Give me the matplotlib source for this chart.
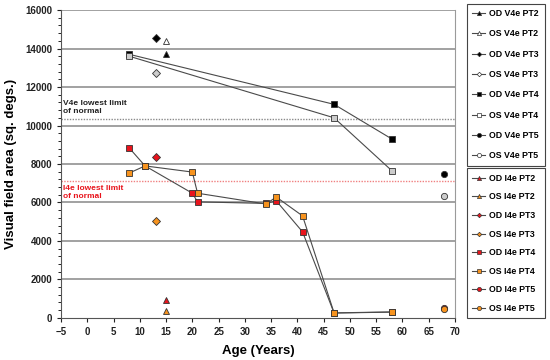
import matplotlib
matplotlib.use("Agg")
import matplotlib.pyplot as plt
from matplotlib.lines import Line2D

plt.rcParams['font.family'] = ['Liberation Sans', 'DejaVu Sans']
plt.rcParams['font.weight'] = 'bold'

# ---- data ----
# V4e
v4_pt2_age = [15]
v4_pt2_od = [13700]
v4_pt2_os = [14400]
v4_pt3_age = [13]
v4_pt3_od = [14550]
v4_pt3_os = [12750]
v4_pt4_age = [8, 47, 58]
v4_pt4_od = [13700, 11100, 9300]
v4_pt4_os = [13600, 10400, 7650]
v4_pt5_age = [68]
v4_pt5_od = [7500]
v4_pt5_os = [6350]
# I4e
i4_pt2_age = [15]
i4_pt2_od = [950]
i4_pt2_os = [380]
i4_pt3_age = [13]
i4_pt3_od = [8370]
i4_pt3_os = [5050]
i4_pt4_od_age = [8, 11, 20, 21, 34, 36, 41, 47, 58]
i4_pt4_od = [8830, 7900, 6480, 6030, 5950, 6080, 4470, 250, 300]
i4_pt4_os_age = [8, 11, 20, 21, 34, 36, 41, 47, 58]
i4_pt4_os = [7530, 7900, 7580, 6480, 5920, 6280, 5300, 260, 310]
i4_pt5_age = [68]
i4_pt5_od = [520]
i4_pt5_os = [480]

v4_limit = 10350
i4_limit = 7100

x_ticks = list(range(-5, 75, 5))
y_ticks = list(range(0, 16001, 2000))

BLACK = '#000000'
GREY = '#cccccc'
RED = '#e8141c'
ORANGE = '#f7931e'
LINE = '#4a4a4a'

fig = plt.figure(figsize=(5.5, 3.6), dpi=100)
ax = fig.add_axes([0.111, 0.117, 0.716, 0.855])

ax.set_xlim(-5, 70)
ax.set_ylim(0, 16000)
for y in y_ticks[1:]:
    ax.axhline(y, color='#9a9a9a', lw=1.3, zorder=1)

ax.axhline(v4_limit, color='#8a8a8a', lw=1.0, ls=(0, (1, 1)), zorder=1)
ax.axhline(i4_limit, color='#f08080', lw=1.0, ls=(0, (1, 1)), zorder=1)
ax.text(-4.6, v4_limit + 180, 'V4e lowest limit\nof normal', fontsize=6,
        fontweight='bold', color='#222222', va='bottom', ha='left', linespacing=1.25)
ax.text(-4.6, i4_limit - 170, 'I4e lowest limit\nof normal', fontsize=6,
        fontweight='bold', color=RED, va='top', ha='left', linespacing=1.25)

def series(x, y, marker, fc, ms, ls='-'):
    ax.plot(x, y, ls, color=LINE, lw=0.8, marker=marker, markersize=ms,
            markerfacecolor=fc, markeredgecolor='#333333', markeredgewidth=0.6, zorder=3)

# V4e
series(v4_pt2_age, v4_pt2_od, '^', BLACK, 5)
series(v4_pt2_age, v4_pt2_os, '^', '#ffffff', 5)
series(v4_pt3_age, v4_pt3_od, 'D', BLACK, 3.8)
series(v4_pt3_age, v4_pt3_os, 'D', GREY, 3.8)
series(v4_pt4_age, v4_pt4_od, 's', BLACK, 5)
series(v4_pt4_age, v4_pt4_os, 's', GREY, 5)
series(v4_pt5_age, v4_pt5_od, 'o', BLACK, 4.5)
series(v4_pt5_age, v4_pt5_os, 'o', GREY, 4.5)
# I4e
series(i4_pt2_age, i4_pt2_od, '^', RED, 5)
series(i4_pt2_age, i4_pt2_os, '^', ORANGE, 5)
series(i4_pt3_age, i4_pt3_od, 'D', RED, 3.8)
series(i4_pt3_age, i4_pt3_os, 'D', ORANGE, 3.8)
series(i4_pt4_od_age, i4_pt4_od, 's', RED, 5)
series(i4_pt4_os_age, i4_pt4_os, 's', ORANGE, 5)
series(i4_pt5_age, i4_pt5_od, 'o', RED, 4.5)
series(i4_pt5_age, i4_pt5_os, 'o', ORANGE, 4.5)

ax.set_xticks(x_ticks)
ax.set_yticks(y_ticks)
ax.set_yticks(range(0, 16001, 400), minor=True)
ax.tick_params(axis='both', labelsize=7, length=3, width=0.8, colors='#222222')
ax.tick_params(axis='y', which='minor', length=2, width=0.6)
for lab in ax.get_xticklabels() + ax.get_yticklabels():
    lab.set_fontweight('bold')
ax.spines['top'].set_visible(False)
ax.spines['right'].set_color('#9a9a9a')
ax.spines['left'].set_color('#555555')
ax.spines['bottom'].set_color('#555555')

ax.set_xlabel('Age (Years)', fontsize=9.5, fontweight='bold', labelpad=6)
ax.set_ylabel('Visual field area (sq. degs.)', fontsize=9.5, fontweight='bold', labelpad=6)

def handle(marker, fc, ms):
    return Line2D([], [], color=LINE, lw=0.8, marker=marker, markersize=ms,
                  markerfacecolor=fc, markeredgecolor='#333333', markeredgewidth=0.5)

v4_labels = ['OD V4e PT2', 'OS V4e PT2', 'OD V4e PT3', 'OS V4e PT3',
             'OD V4e PT4', 'OS V4e PT4', 'OD V4e PT5', 'OS V4e PT5']
i4_labels = ['OD I4e PT2', 'OS I4e PT2', 'OD I4e PT3', 'OS I4e PT3',
             'OD I4e PT4', 'OS I4e PT4', 'OD I4e PT5', 'OS I4e PT5']
shapes = [('^', 3), ('^', 3), ('D', 2.3), ('D', 2.3), ('s', 3.2), ('s', 3.2), ('o', 3), ('o', 3)]
v4_fc = [BLACK, '#ffffff'] * 4
i4_fc = [RED, ORANGE] * 4
v4_h = [handle(m, fc, ms) for (m, ms), fc in zip(shapes, v4_fc)]
i4_h = [handle(m, fc, ms) for (m, ms), fc in zip(shapes, i4_fc)]

legkw = dict(handlelength=1.5, handletextpad=0.4, borderpad=0.6, borderaxespad=0,
             fancybox=False, edgecolor='#444444', framealpha=1, mode='expand',
             prop={'weight': 'bold', 'size': 6.3})
l1 = fig.legend(v4_h, v4_labels, loc='upper left',
                bbox_to_anchor=(0.849, 0.55, 0.141, 0.44), labelspacing=1.3, **legkw)
l2 = fig.legend(i4_h, i4_labels, loc='upper left',
                bbox_to_anchor=(0.849, 0.117, 0.141, 0.415), labelspacing=1.1, **legkw)
for l in (l1, l2):
    l.get_frame().set_linewidth(0.8)

fig.savefig('out.png', dpi=100)
